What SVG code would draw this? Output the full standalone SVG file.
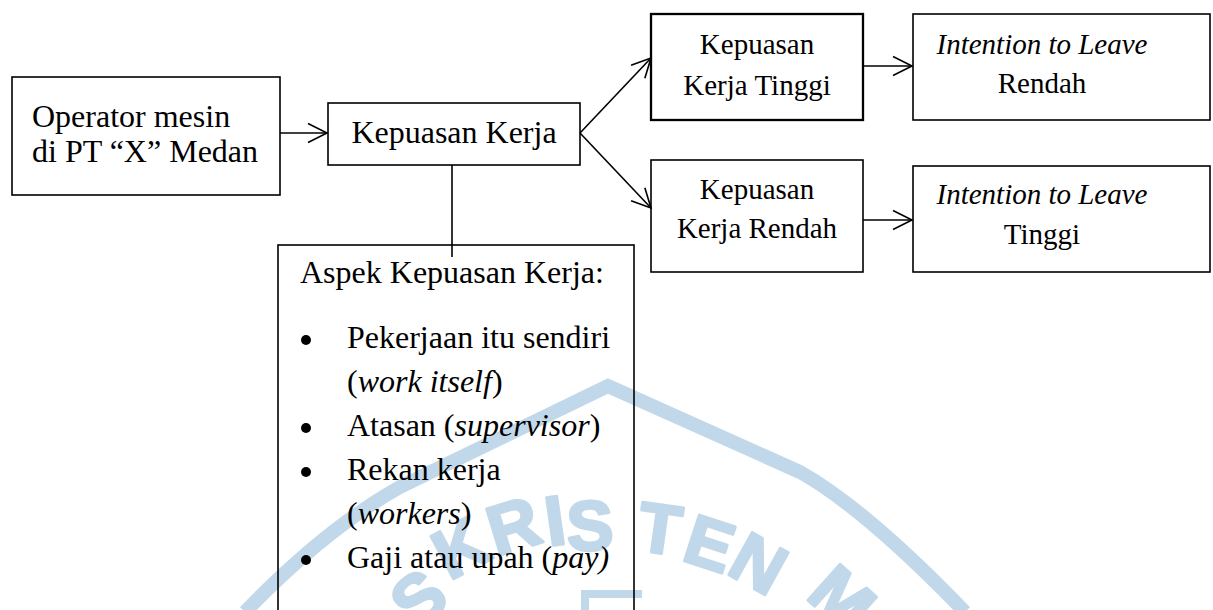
<svg xmlns="http://www.w3.org/2000/svg" width="1213" height="610" viewBox="0 0 1213 610">
<style>
.box{fill:none;stroke:#000;stroke-width:1.6}
.t{font-family:"Liberation Serif","Times New Roman",serif;fill:#000}
.t32{font-size:32px}
.t29{font-size:29px}
.c{text-anchor:middle}
.it{font-style:italic}
.conn{fill:none;stroke:#000;stroke-width:1.6}
.wm{font-family:"Liberation Sans",Arial,sans-serif;font-weight:bold;font-size:70px;fill:#c0d8ea;stroke:#c0d8ea;stroke-width:3;stroke-linejoin:round;text-anchor:middle}
</style>
<defs>
<marker id="arr" markerUnits="userSpaceOnUse" markerWidth="24" markerHeight="24" refX="19" refY="10" orient="auto" overflow="visible">
<path d="M0,0.5 L19,10 L0,19.5" fill="none" stroke="#000" stroke-width="1.6"/>
</marker>
</defs>
<rect width="1213" height="610" fill="#fff"/>
<g id="watermark">
<path d="M245,612 C300,555 350,515 400,487 L608,386 L800,472 C850,500 910,555 965,612" fill="none" stroke="#c0d8ea" stroke-width="14" stroke-linejoin="miter"/>
<path d="M585,612 V594 H642" fill="none" stroke="#c0d8ea" stroke-width="8"/>
<text class="wm" transform="translate(418,598) rotate(-40)" y="25">S</text>
<text class="wm" transform="translate(460,547) rotate(-28)" y="25">K</text>
<text class="wm" transform="translate(513,525) rotate(-17)" y="25">R</text>
<text class="wm" transform="translate(555,520) rotate(-8)" y="25">I</text>
<text class="wm" transform="translate(590,525) rotate(-2)" y="25">S</text>
<text class="wm" transform="translate(660,528) rotate(8)" y="25">T</text>
<text class="wm" transform="translate(710,543) rotate(18)" y="25">E</text>
<text class="wm" transform="translate(759,563) rotate(29)" y="25">N</text>
<text class="wm" transform="translate(843,598) rotate(42)" y="25">M</text>
</g>
<g id="connectors">
<path class="conn" d="M280,133 H327" marker-end="url(#arr)"/>
<path class="conn" d="M580,133 L651,58" marker-end="url(#arr)"/>
<path class="conn" d="M580,133 L651,208" marker-end="url(#arr)"/>
<path class="conn" d="M863,66 H912" marker-end="url(#arr)"/>
<path class="conn" d="M863,220 H912" marker-end="url(#arr)"/>
</g>
<g id="operator">
<rect class="box" x="12" y="77" width="268" height="118"/>
<text class="t t32" x="32" y="127">Operator mesin</text>
<text class="t t32" x="32" y="162">di PT “X” Medan</text>
</g>
<g id="kepuasan-kerja">
<rect class="box" x="328" y="103" width="252" height="62"/>
<text class="t t32 c" x="454" y="143">Kepuasan Kerja</text>
</g>
<g id="aspek">
<rect class="box" x="278" y="245" width="356" height="380"/>
<text class="t t32" x="300" y="283">Aspek Kepuasan Kerja:</text>
<circle cx="306" cy="340" r="5"/>
<text class="t t32" x="347" y="348">Pekerjaan itu sendiri</text>
<text class="t t32" x="347" y="392">(<tspan class="it">work itself</tspan>)</text>
<circle cx="306" cy="428" r="5"/>
<text class="t t32" x="347" y="436">Atasan (<tspan class="it">supervisor</tspan>)</text>
<circle cx="306" cy="472" r="5"/>
<text class="t t32" x="347" y="480">Rekan kerja</text>
<text class="t t32" x="347" y="524">(<tspan class="it">workers</tspan>)</text>
<circle cx="306" cy="560" r="5"/>
<text class="t t32" x="347" y="568">Gaji atau upah (<tspan class="it">pay)</tspan></text>
</g>
<g id="link">
<path class="conn" d="M452,165 V257"/>
</g>
<g id="kerja-tinggi">
<rect class="box" x="651" y="14" width="212" height="106" style="stroke-width:2.3"/>
<text class="t t29 c" x="757" y="54">Kepuasan</text>
<text class="t t29 c" x="757" y="95">Kerja Tinggi</text>
</g>
<g id="itl-rendah">
<rect class="box" x="913" y="14" width="297" height="106"/>
<text class="t t29 c it" x="1042" y="54">Intention to Leave</text>
<text class="t t29 c" x="1042" y="93">Rendah</text>
</g>
<g id="kerja-rendah">
<rect class="box" x="651" y="160" width="212" height="112"/>
<text class="t t29 c" x="757" y="199">Kepuasan</text>
<text class="t t29 c" x="757" y="238">Kerja Rendah</text>
</g>
<g id="itl-tinggi">
<rect class="box" x="913" y="166" width="297" height="106"/>
<text class="t t29 c it" x="1042" y="204">Intention to Leave</text>
<text class="t t29 c" x="1042" y="244">Tinggi</text>
</g>
</svg>
